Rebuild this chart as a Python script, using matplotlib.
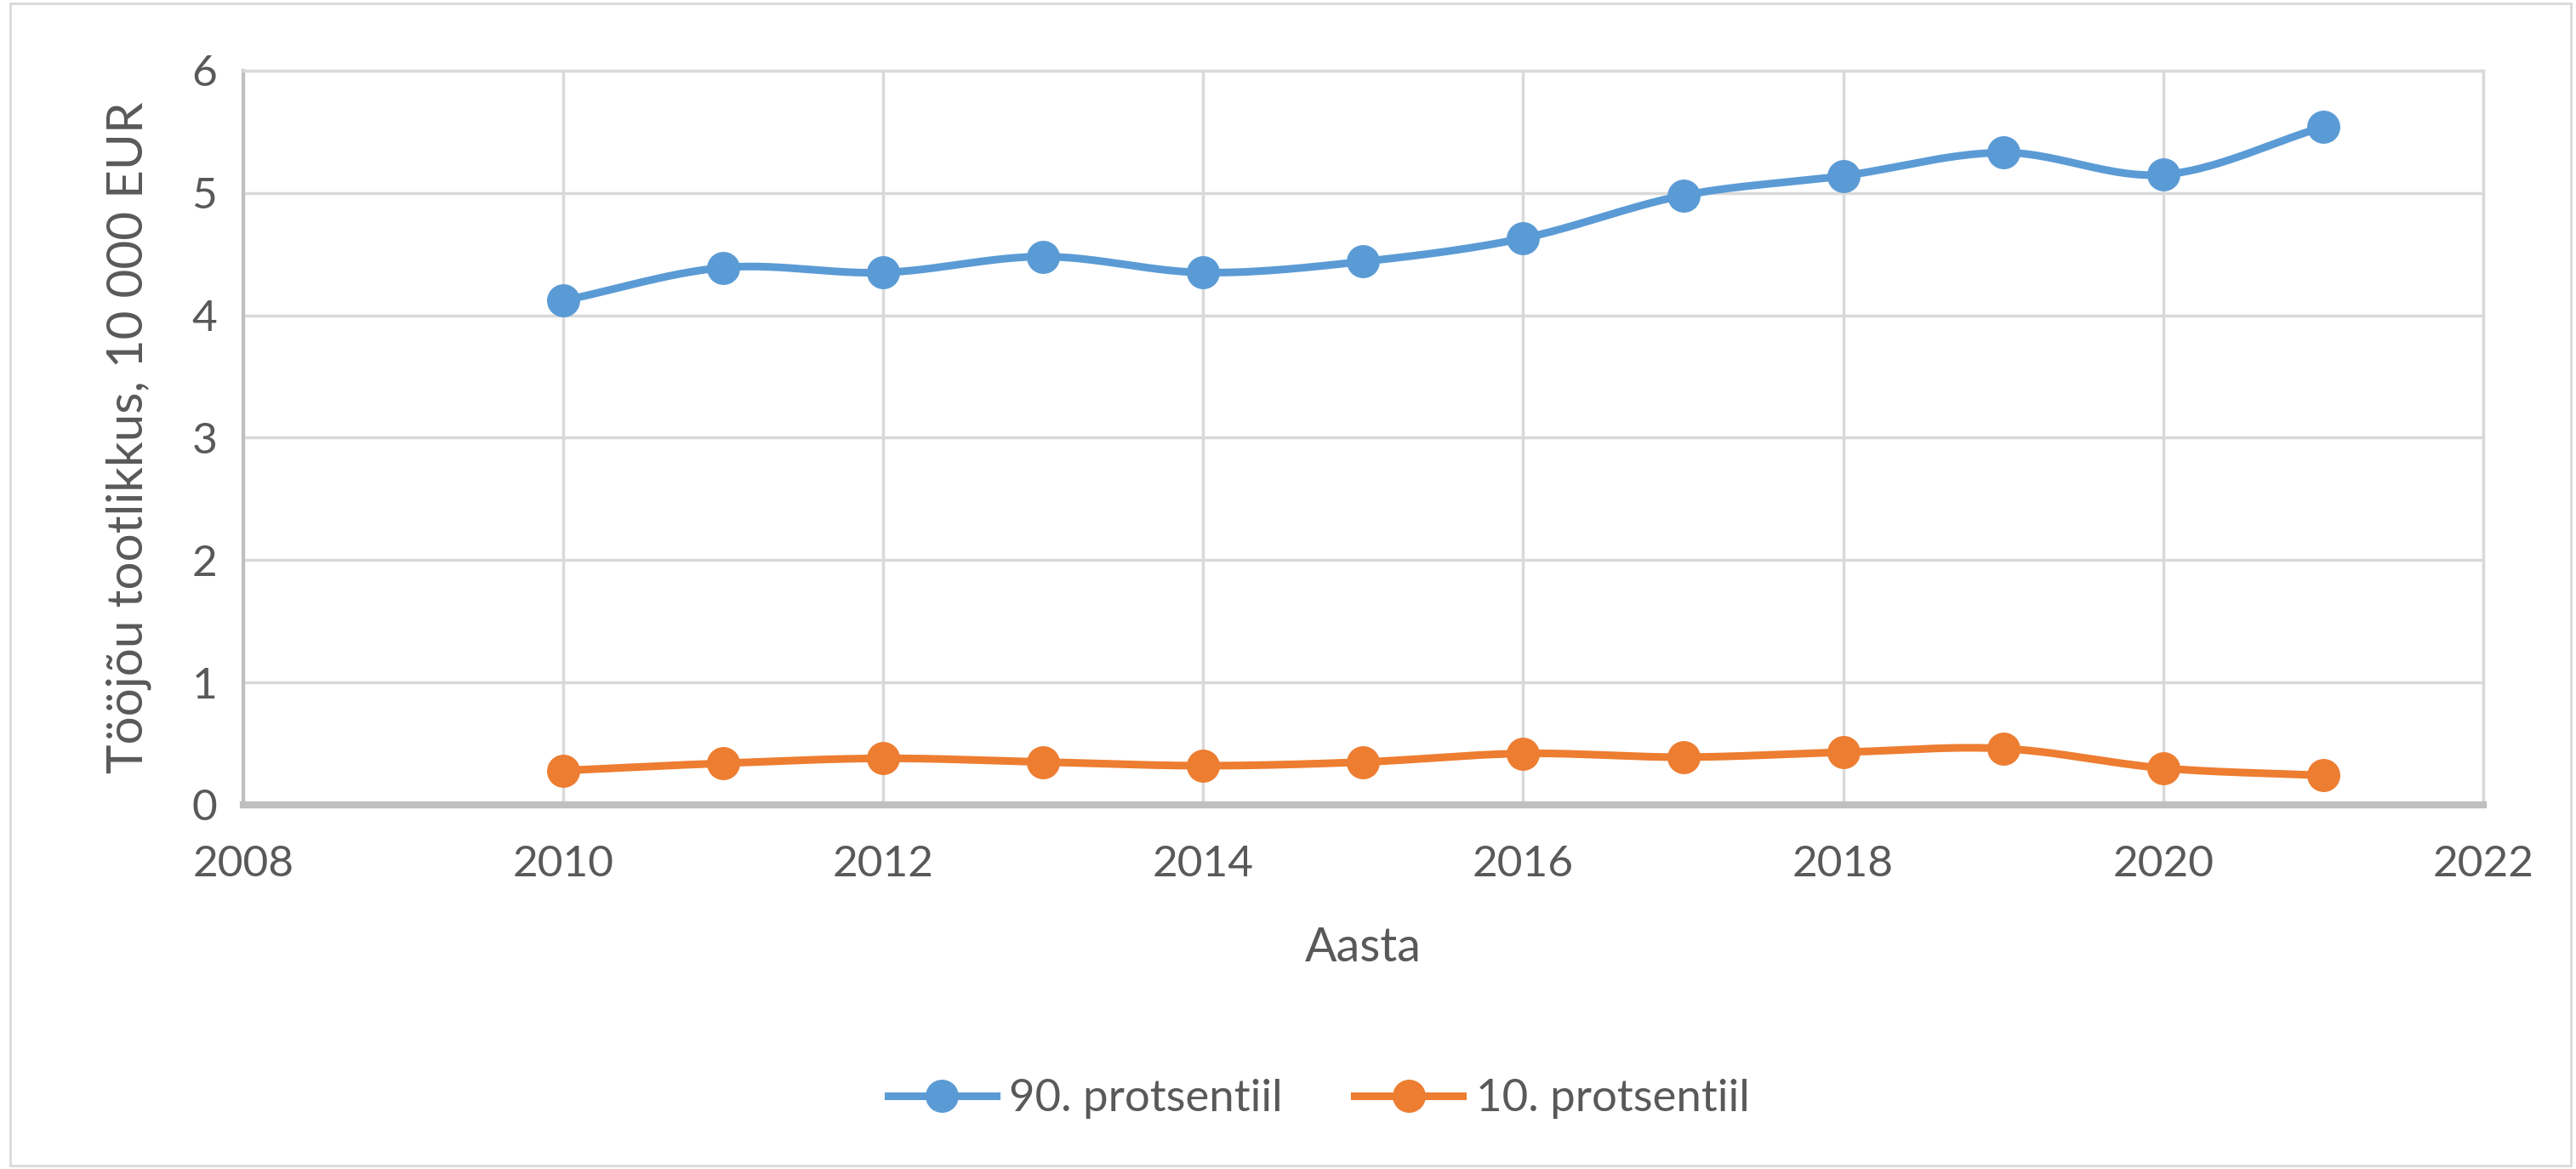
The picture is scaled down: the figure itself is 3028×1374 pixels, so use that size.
import numpy as np
import matplotlib
matplotlib.use("Agg")
from matplotlib import pyplot as plt
from matplotlib.patches import Rectangle

years = [2010, 2011, 2012, 2013, 2014, 2015, 2016, 2017, 2018, 2019, 2020, 2021]
p90 = [4.12, 4.39, 4.35, 4.48, 4.35, 4.44, 4.63, 4.98, 5.14, 5.33, 5.15, 5.54]
p10 = [0.28, 0.34, 0.38, 0.35, 0.32, 0.35, 0.42, 0.39, 0.43, 0.46, 0.30, 0.24]
labels = ["90. protsentiil", "10. protsentiil"]
colors = ["#5b9bd5", "#ed7d31"]


def smooth(x, y, n=30):
    # catmull-rom through the points, like excel's smoothed line
    pts = np.column_stack([x, y]).astype(float)
    pts = np.vstack([pts[0] - (pts[1] - pts[0]), pts, pts[-1] + (pts[-1] - pts[-2])])
    out = []
    for i in range(1, len(pts) - 2):
        p0, p1, p2, p3 = pts[i - 1], pts[i], pts[i + 1], pts[i + 2]
        t = np.linspace(0, 1, n)[:, None]
        seg = 0.5 * ((2 * p1) + (-p0 + p2) * t + (2 * p0 - 5 * p1 + 4 * p2 - p3) * t**2
                     + (-p0 + 3 * p1 - 3 * p2 + p3) * t**3)
        out.append(seg)
    out = np.vstack(out)
    return out[:, 0], out[:, 1]


plt.rcParams["font.family"] = ["Lato", "DejaVu Sans"]
fig = plt.figure(figsize=(30.28, 13.74), dpi=100)
ax = fig.add_axes([0.0944, 0.3115, 0.8696, 0.6281])

fig.patches.append(Rectangle((0.004, 0.003), 0.994, 0.994, transform=fig.transFigure,
                             fill=False, edgecolor="#d9d9d9", linewidth=2))

for vals, lab, c in zip([p90, p10], labels, colors):
    sx, sy = smooth(years, vals)
    ax.plot(sx, sy, color=c, linewidth=6.5, solid_capstyle="round", zorder=3)
    ax.plot(years, vals, linestyle="none", marker="o", markersize=27, color=c, zorder=4)
    ax.plot([], [], color=c, linewidth=6.5, marker="o", markersize=27, label=lab)

ax.set_xlim(2008, 2022)
ax.set_ylim(0, 6)
ax.set_xticks(range(2008, 2023, 2))
ax.set_yticks(range(0, 7))
ax.grid(True, color="#d9d9d9", linewidth=2.5)
ax.set_axisbelow(True)
for s in ["top", "right"]:
    ax.spines[s].set_color("#d9d9d9")
    ax.spines[s].set_linewidth(2.5)
ax.spines["left"].set_color("#bfbfbf")
ax.spines["left"].set_linewidth(3)
ax.spines["bottom"].set_color("#bfbfbf")
ax.spines["bottom"].set_linewidth(6)
ax.tick_params(axis="x", length=0, labelsize=37, labelcolor="#595959", pad=34)
ax.tick_params(axis="y", length=0, labelsize=37, labelcolor="#595959", pad=22)
ax.set_xlabel("Aasta", fontsize=40, color="#595959", labelpad=36)
ax.set_ylabel("Tööjõu tootlikkus, 10 000 EUR", fontsize=42, color="#595959", labelpad=34)

fig.legend(loc="center", bbox_to_anchor=(0.512, 0.06), ncol=2, frameon=False,
           fontsize=38, labelcolor="#595959", handlelength=2.4, columnspacing=1.6,
           handletextpad=0.3)

fig.savefig("out.png", dpi=100)
